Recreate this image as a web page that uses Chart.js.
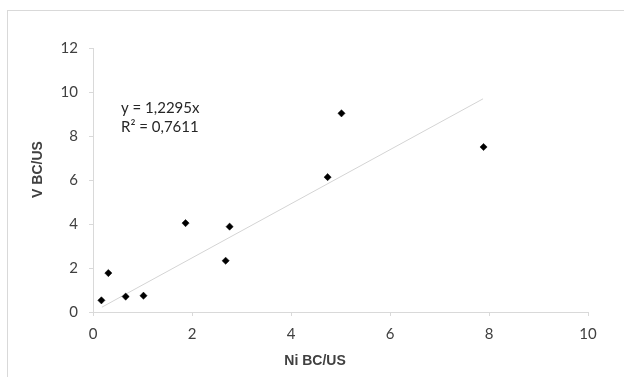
<!DOCTYPE html>
<html>
<head>
<meta charset="utf-8">
<script src="https://cdn.jsdelivr.net/npm/chart.js@4.4.0/dist/chart.umd.min.js"></script>
<style>
  html, body { margin: 0; padding: 0; background: #fff; overflow: hidden; }
  #wrap { position: relative; width: 624px; height: 377px; }
  #frame { position: absolute; left: 7px; top: 10px; width: 660px; height: 420px; border: 1px solid #d9d9d9; }
  canvas { position: absolute; left: 0; top: 0; }
</style>
</head>
<body>
<div id="wrap">
  <div id="frame"></div>
  <canvas id="chart" width="624" height="377"></canvas>
</div>
<script>
/* ---------- data ---------- */
const niValues = [0.17, 0.31, 0.66, 1.02, 1.87, 2.68, 2.76, 4.74, 5.02, 7.89];
const vValues  = [0.53, 1.77, 0.70, 0.74, 4.04, 2.33, 3.88, 6.13, 9.03, 7.50];

// trend line ends (y = 1,2295x)
const trendX = [0.18, 7.88];
const trendY = [0.22, 9.69];

const equationLines = ['y = 1,2295x', 'R\u00B2 = 0,7611'];
const xTitle = 'Ni BC/US';
const yTitle = 'V BC/US';

const points = niValues.map((x, i) => ({ x, y: vValues[i] }));
const trend  = trendX.map((x, i) => ({ x, y: trendY[i] }));

/* ---------- text drawn on top ---------- */
const textPlugin = {
  id: 'texts',
  afterDraw(chart) {
    const ctx = chart.ctx;
    ctx.save();
    ctx.fillStyle = '#262626';
    ctx.font = '15px Lato';
    ctx.textAlign = 'left';
    ctx.textBaseline = 'middle';
    ctx.fillText(equationLines[0], 121, 108);
    ctx.fillText(equationLines[1], 121, 127);

    ctx.fillStyle = '#404040';
    ctx.font = 'bold 14px "Liberation Sans", Arial';
    ctx.textAlign = 'center';
    ctx.fillText(xTitle, 315, 361);
    ctx.translate(38, 169.5);
    ctx.rotate(-Math.PI / 2);
    ctx.fillText(yTitle, 0, 0);
    ctx.restore();
  }
};

const axisGrey = '#d9d9d9';
const tickFont = { family: 'Lato', size: 15 };

new Chart(document.getElementById('chart'), {
  type: 'scatter',
  data: {
    datasets: [
      {
        data: points,
        pointStyle: 'rectRot',
        pointRadius: 3.6,
        pointHoverRadius: 3.6,
        backgroundColor: '#000',
        borderColor: '#000',
        borderWidth: 0.5,
        order: 1
      },
      {
        type: 'line',
        data: trend,
        borderColor: '#d4d4d4',
        borderWidth: 1,
        pointRadius: 0,
        fill: false,
        order: 2
      }
    ]
  },
  options: {
    responsive: false,
    animation: false,
    events: [],
    layout: { padding: { left: 0, top: 48, right: 36, bottom: 0 } },
    plugins: { legend: { display: false }, tooltip: { enabled: false } },
    scales: {
      x: {
        type: 'linear',
        min: 0, max: 10,
        ticks: { stepSize: 2, color: '#404040', font: tickFont, padding: 9 },
        grid: { drawOnChartArea: false, drawTicks: true, tickLength: 4, color: axisGrey },
        border: { display: true, color: axisGrey },
        afterFit: s => { s.height = 65; }
      },
      y: {
        type: 'linear',
        min: 0, max: 12,
        ticks: { stepSize: 2, color: '#404040', font: tickFont, padding: 11 },
        grid: { drawOnChartArea: false, drawTicks: true, tickLength: 4, color: axisGrey },
        border: { display: true, color: axisGrey },
        afterFit: s => { s.width = 93; }
      }
    }
  },
  plugins: [textPlugin]
});
</script>
</body>
</html>
